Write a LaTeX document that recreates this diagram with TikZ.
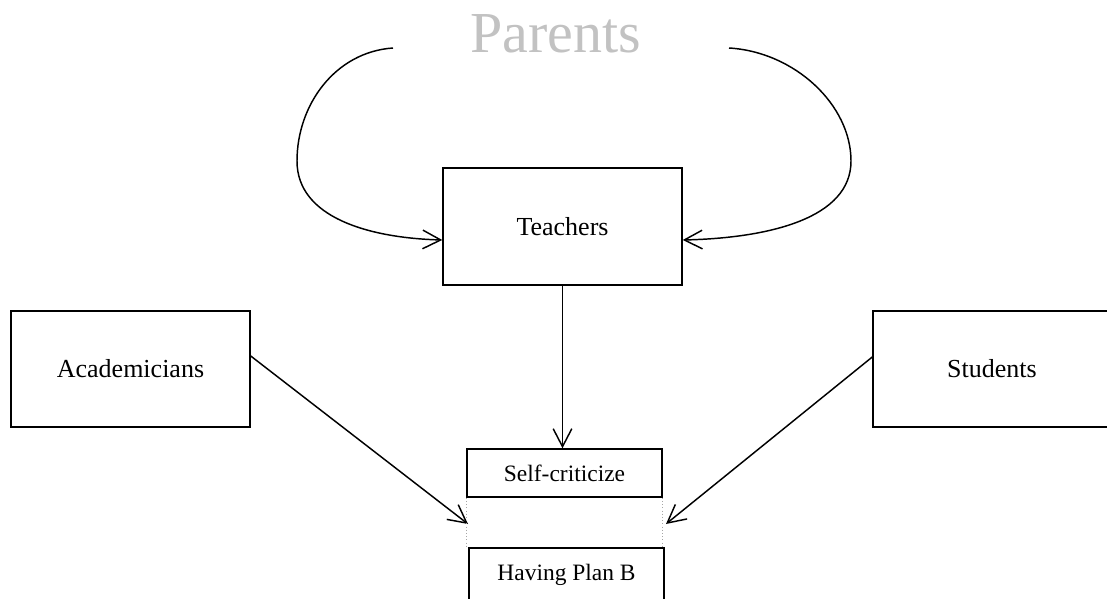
\documentclass[tikz,border=0pt]{standalone}
\usepackage{fontspec}
\setmainfont{Liberation Serif}
\usetikzlibrary{arrows.meta,calc}
\begin{document}
\begin{tikzpicture}[x=0.75pt,y=-0.75pt,
  bigbox/.style={draw,line width=1.1pt,inner sep=0pt,minimum width=179.25pt,minimum height=87.75pt,font=\fontsize{19.5}{23}\selectfont},
  smallbox/.style={draw,line width=1.1pt,inner sep=0pt,minimum width=146.25pt,font=\fontsize{17.6}{21}\selectfont},
  conn/.style={line width=1.1pt,-{Straight Barb[length=13.5pt,width=14pt,line width=1.1pt]}},
  guide/.style={line width=0.4pt,draw=gray!70,dotted}]
\useasboundingbox (0,0) rectangle (1107,599);
\clip (0,0) rectangle (1107,599);
\node[anchor=base,text=black!24,font=\fontsize{43.5}{50}\selectfont] (parents) at (555.5,53) {Parents};
\node[bigbox] (teachers) at (562.5,226.5) {Teachers};
\node[bigbox,minimum height=87pt] (acad) at (130.5,369) {Academicians};
\node[bigbox,minimum width=178.5pt,minimum height=87pt] (stud) at (992,369) {Students};
\node[smallbox,minimum height=36pt] (self) at (564.5,473) {Self-criticize};
\node[smallbox,minimum height=40.5pt] (plan) at (566.5,575) {Having Plan B};
\coordinate (pl) at (393,48);
\coordinate (pr) at (729,48);
\coordinate (tl) at ($(teachers.west)+(0,13.5)$);
\coordinate (tr) at ($(teachers.east)+(0,13.5)$);
\coordinate (gl) at (468,524);
\coordinate (gr) at (666,524);
\coordinate (al) at ($(acad.east)+(0,-13)$);
\coordinate (sr) at ($(stud.west)+(0,-12)$);
\draw[conn] (pl) .. controls (335,52) and (297,105) .. (297,161)
  .. controls (297,218) and (370,238) .. (tl);
\draw[conn] (pr) .. controls (795,52) and (851,105) .. (851,161)
  .. controls (851,218) and (770,238) .. (tr);
\draw[conn] (teachers.south) -- (teachers.south |- self.north);
\draw[conn] (al) -- (gl);
\draw[conn] (sr) -- (gr);
\draw[guide] (self.south west) -- (self.south west |- plan.north);
\draw[guide] (self.south east) -- (self.south east |- plan.north);
\end{tikzpicture}
\end{document}
